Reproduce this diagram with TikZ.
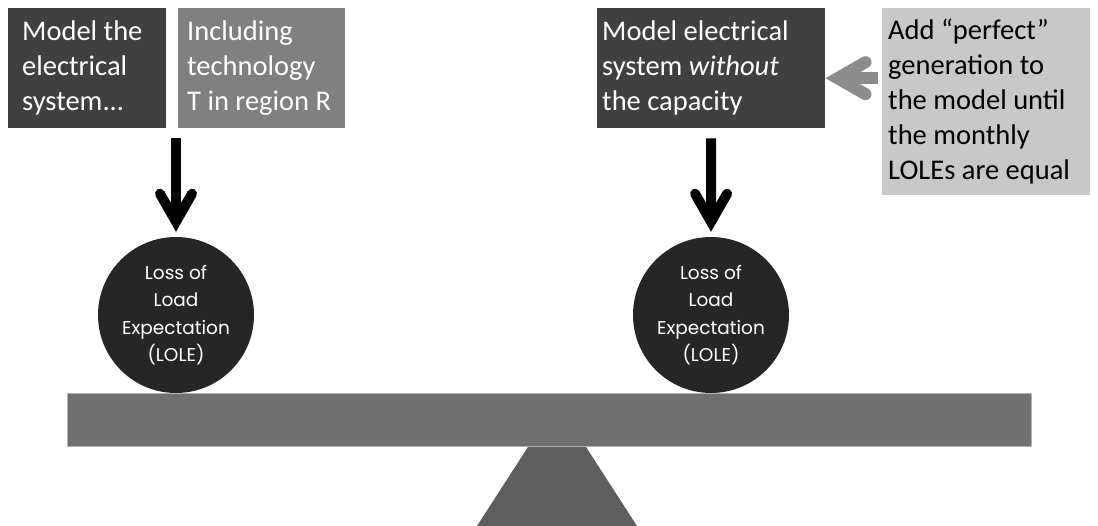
\documentclass[tikz,border=0pt]{standalone}
\usepackage{fontspec}
\setmainfont{Carlito}
\newfontfamily\lolefont{Poppins}
\usetikzlibrary{arrows.meta}
\definecolor{darkfill}{HTML}{404040}
\definecolor{midfill}{HTML}{808080}
\definecolor{lightfill}{HTML}{C8C8C8}
\definecolor{lolefill}{HTML}{262626}
\definecolor{beamfill}{HTML}{707070}
\definecolor{basefill}{HTML}{5E5E5E}
\definecolor{arrowgray}{HTML}{8C8C8C}
\tikzset{box/.style={rectangle, anchor=north west, align=flush left, minimum height=120pt, inner ysep=0pt, text=white, font=\fontsize{28.5}{35}\selectfont}}
\tikzset{lole/.style={circle, fill=lolefill, text=white, minimum size=156pt, inner sep=0pt, align=center, font=\lolefont\fontsize{18.5}{27.5}\selectfont}}
\tikzset{arrow/.style={-{Straight Barb[line cap=round, line join=miter, length=28pt, width=32pt]}, line width=10pt}}
\tikzset{gray-arrow/.style={arrow, line width=12pt, draw=arrowgray}}

\begin{document}
\begin{tikzpicture}[x=1pt, y=-1pt]
      \useasboundingbox (0,0) rectangle (1098,526);

      \node[box, fill=darkfill, inner xsep=14pt, text width=130pt] (sys1) at (8,8) {Model the\\electrical\\system...};
      \node[box, fill=midfill, inner xsep=9pt, text width=149pt] (tech) at (178,8) {Including\\technology\\T in region R};
      \node[box, fill=darkfill, inner xsep=5pt, text width=218pt] (sys2) at (597,8) {Model electrical\\system \textit{without}\\the capacity};
      \node[box, fill=lightfill, text=black, inner xsep=6pt, text width=196pt, minimum height=187pt] (perfect) at (882,8) {Add “perfect”\\generation to\\the model until\\the monthly\\LOLEs are equal};

      \fill[basefill] (557,402) -- (637,526) -- (477,526) -- cycle;
      \node[rectangle, fill=beamfill, draw=white!70!black, minimum width=964pt, minimum height=53pt] (beam) at (549,419.5) {};

      \node[lole] (lole1) at (176,315) {Loss of\\Load\\Expectation\\(LOLE)};
      \node[lole] (lole2) at (711,315) {Loss of\\Load\\Expectation\\(LOLE)};

      \draw[arrow, shorten <=10pt, shorten >=5pt] (lole1.north |- sys1.south) -- (lole1.north);
      \draw[arrow, shorten <=10pt, shorten >=5pt] (sys2.south) -- (lole2.north);
      \draw[gray-arrow, shorten <=4pt] ([yshift=-10pt]perfect.west |- sys2.east) -- ([yshift=-10pt]sys2.east);
    \end{tikzpicture}
\end{document}
